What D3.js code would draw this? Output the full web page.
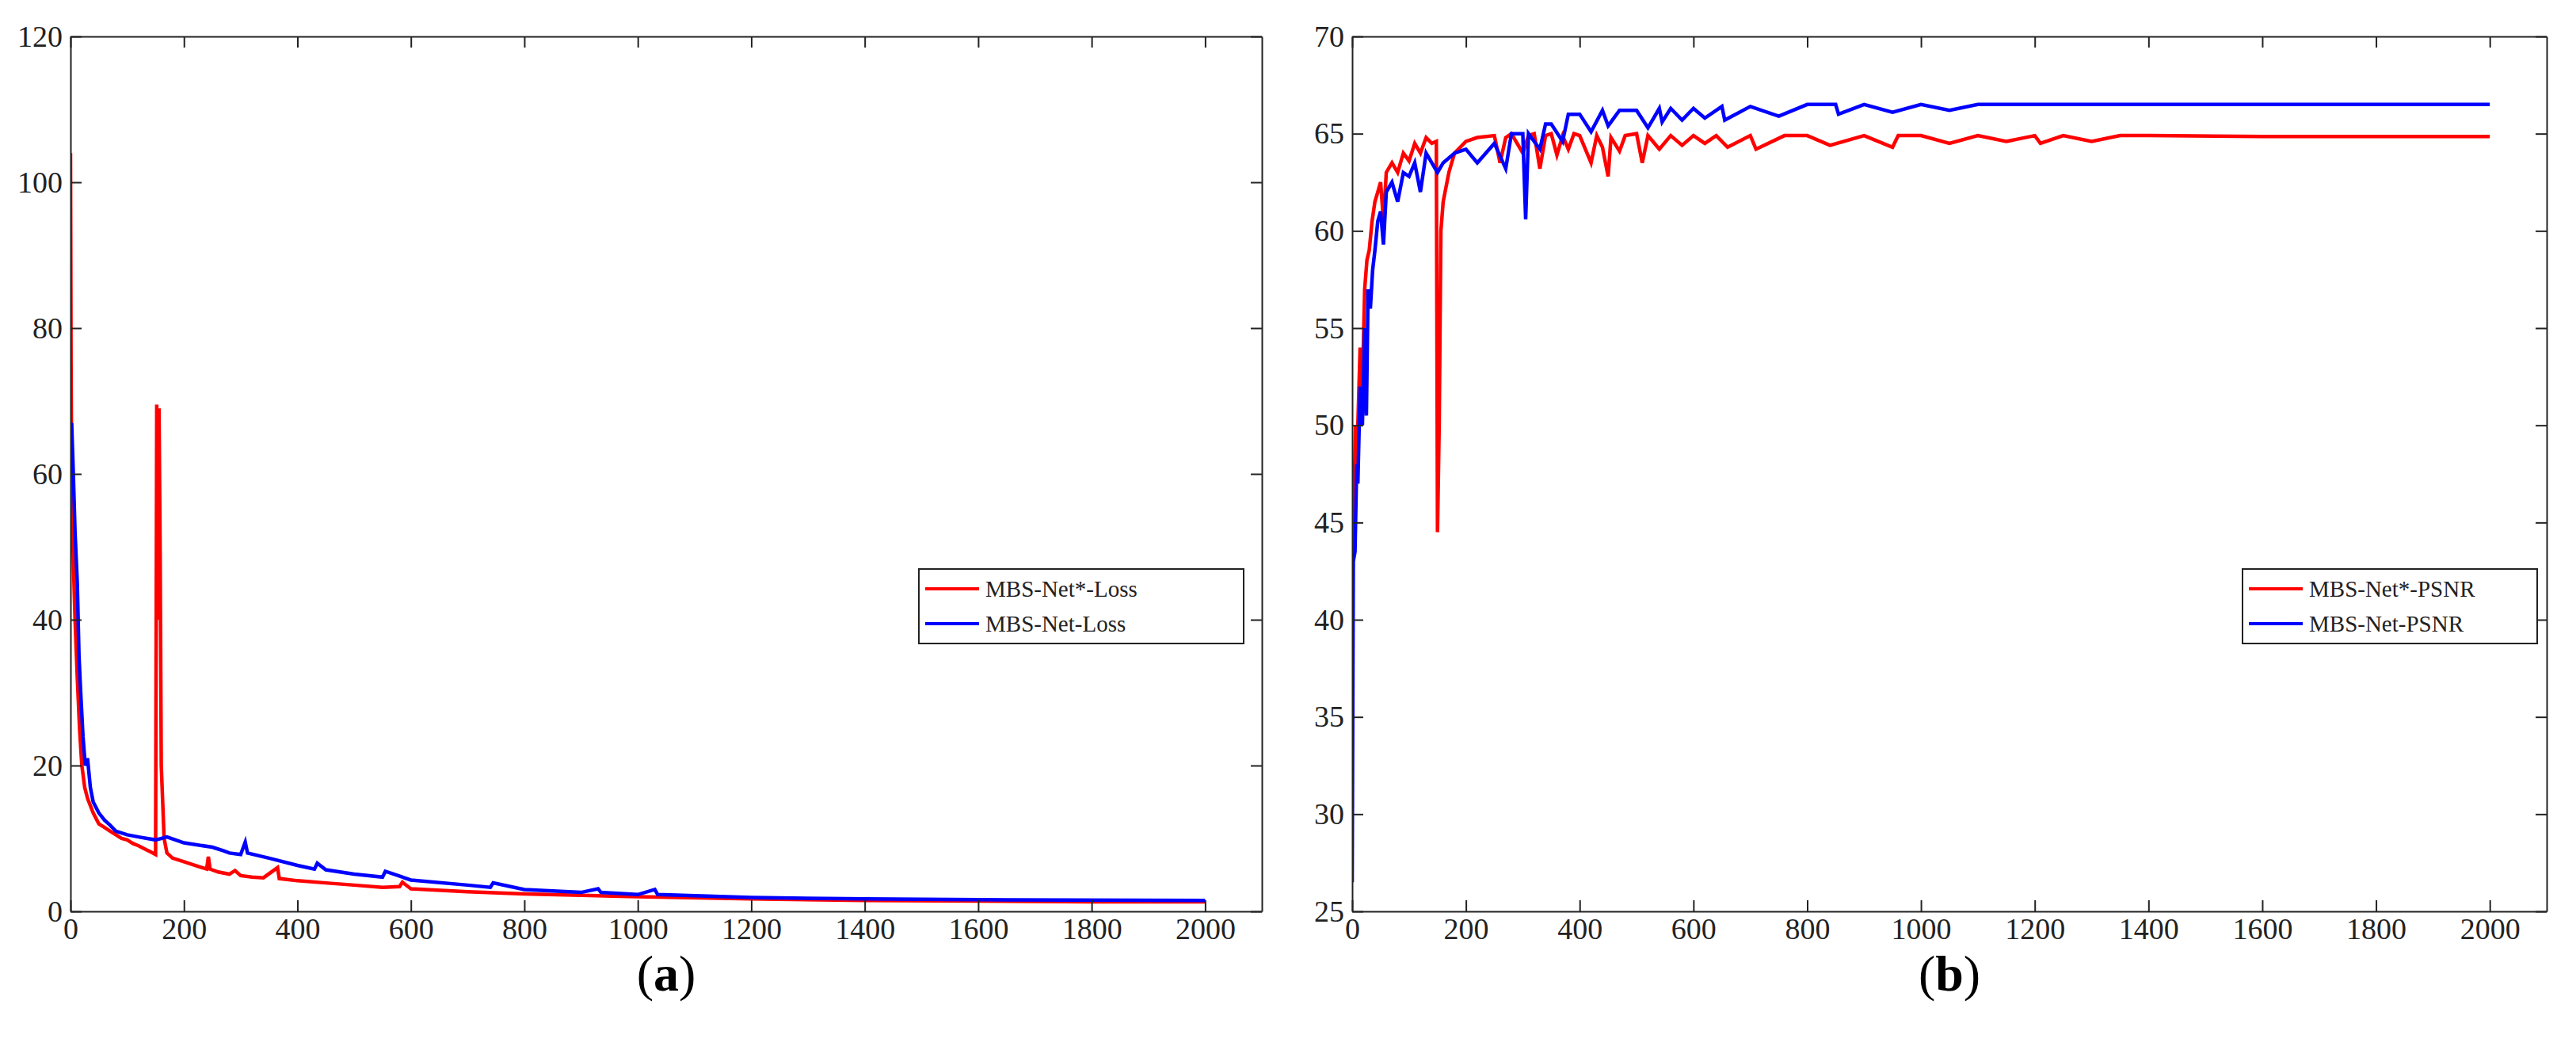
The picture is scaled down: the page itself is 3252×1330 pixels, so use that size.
<!DOCTYPE html><html><head><meta charset="utf-8">
<script src="https://cdn.jsdelivr.net/npm/d3@7"></script>
<style>body{margin:0;background:#fff}svg{font-family:"Liberation Serif","Times New Roman",serif}</style></head><body>
<svg id="c" width="3252" height="1330"></svg>
<script>
const lossRedX=[0,1,2,3,5,8,12,16,20,25,30,40,50,60,70,80,90,100,110,120,130,140,150,152,154,156,158,160,165,170,180,200,220,240,243,246,260,280,290,300,320,340,365,368,400,450,500,550,580,585,600,700,800,900,1000,1200,1400,1600,1800,2000];
const lossRedY=[104,75,60,55,48,40,32,25,20,17,15.5,13.5,12,11.5,11,10.5,10,9.8,9.3,9,8.6,8.2,7.8,69.5,40,69,50,20,10,8,7.3,6.8,6.3,5.8,7.5,5.8,5.4,5.1,5.6,4.9,4.7,4.6,6,4.5,4.2,3.9,3.6,3.3,3.4,4.0,3.1,2.7,2.4,2.2,2.0,1.7,1.5,1.4,1.3,1.3];
const lossBlueX=[0,2,5,8,12,15,18,22,26,30,35,40,50,60,70,80,100,120,150,170,200,250,270,280,300,308,312,350,400,430,435,450,500,550,555,600,700,740,745,800,900,930,935,1000,1030,1035,1200,1400,1600,2000];
const lossBlueY=[65,67,60,52,45,35,30,24,20,21,17,15,13.5,12.5,11.8,11,10.5,10.2,9.8,10.2,9.4,8.8,8.3,8.0,7.8,9.5,8,7.3,6.3,5.8,6.6,5.7,5.1,4.7,5.5,4.3,3.6,3.3,3.9,3.0,2.6,3.1,2.6,2.3,3,2.3,1.9,1.7,1.6,1.5];
const psnrRedX=[0,3,6,8,10,14,18,22,26,30,35,40,45,50,55,60,70,80,90,100,110,120,130,140,148,150,153,156,160,170,180,200,220,250,260,270,280,300,310,320,330,340,350,360,370,380,390,400,420,430,440,450,455,470,480,500,510,520,540,560,580,600,620,640,660,700,710,760,800,840,900,950,960,1000,1050,1100,1150,1200,1210,1250,1300,1350,1400,1600,2000];
const psnrRedY=[43.5,46,50,47,50,54,52,57,58.5,59,60.5,61.5,62,62.5,60.5,63,63.5,63,64,63.6,64.5,64,64.8,64.5,64.6,44.5,50,60,61.5,63,64,64.6,64.8,64.9,63.5,64.8,65,64,64.9,65,63.2,64.9,65,63.9,64.9,64.2,65,64.9,63.5,64.9,64.3,62.8,64.8,64.1,64.9,65,63.5,64.9,64.2,64.9,64.4,64.9,64.5,64.9,64.3,64.9,64.2,64.9,64.9,64.4,64.9,64.3,64.9,64.9,64.5,64.9,64.6,64.9,64.5,64.9,64.6,64.9,64.9,64.85,64.85];
const psnrBlueX=[0,2,5,8,10,14,18,22,25,28,32,36,40,45,50,55,60,70,80,90,100,110,120,130,150,160,180,200,220,250,270,280,300,305,310,330,340,350,370,380,400,420,440,450,470,500,520,540,545,560,580,600,620,650,655,700,750,800,850,855,900,950,1000,1050,1100,1200,1400,2000];
const psnrBlueY=[26.5,43,43.5,48,47,52,50,55,50.5,57,56,58,59,60.5,61,59.3,62,62.5,61.5,63,62.8,63.5,62,64,63,63.5,64,64.2,63.5,64.5,63.2,65,65,60.6,65,64.2,65.5,65.5,64.6,66,66,65.1,66.2,65.4,66.2,66.2,65.3,66.3,65.6,66.3,65.7,66.3,65.8,66.4,65.7,66.4,65.9,66.5,66.5,66,66.5,66.1,66.5,66.2,66.5,66.5,66.5,66.5];
const xTicks=[0,200,400,600,800,1000,1200,1400,1600,1800,2000];
const lossTicks=[0,20,40,60,80,100,120];
const psnrTicks=[25,30,35,40,45,50,55,60,65,70];

const svg=d3.select("#c");
function panel(L,R,T,B,yDom,yT,series,legend,leg,label){
  const x=d3.scaleLinear().domain([0,2100]).range([L,R]);
  const y=d3.scaleLinear().domain(yDom).range([B,T]);
  const g=svg.append("g");
  const clip="clip"+label;
  svg.append("clipPath").attr("id",clip).append("rect").attr("x",L).attr("y",T).attr("width",R-L).attr("height",B-T);
  series.forEach(s=>{
    const pts=s.x.map((v,i)=>[v,s.y[i]]);
    g.append("path").attr("clip-path",`url(#${clip})`).attr("fill","none").attr("stroke",s.c).attr("stroke-width",4.5)
     .attr("d",d3.line().x(d=>x(d[0])).y(d=>y(d[1]))(pts));
  });
  const ax=(a,tr)=>{const s=g.append("g").attr("transform",tr).call(a);s.selectAll("path,line").attr("stroke","#222").attr("stroke-width",2);
    s.selectAll("text").attr("font-size",38).attr("fill","#222").attr("font-family","Liberation Serif");return s;};
  ax(d3.axisBottom(x).tickValues(xTicks).tickSize(-14).tickPadding(8).tickFormat(d3.format("d")).tickSizeOuter(0),`translate(0,${B})`);
  ax(d3.axisTop(x).tickValues(xTicks).tickSize(-14).tickFormat("").tickSizeOuter(0),`translate(0,${T})`);
  ax(d3.axisLeft(y).tickValues(yT).tickSize(-14).tickPadding(10).tickFormat(d3.format("d")).tickSizeOuter(0),`translate(${L},0)`);
  ax(d3.axisRight(y).tickValues(yT).tickSize(-14).tickFormat("").tickSizeOuter(0),`translate(${R},0)`);
  const lg=g.append("g").attr("transform",`translate(${leg[0]},${leg[1]})`);
  lg.append("rect").attr("width",leg[2]).attr("height",94).attr("fill","#fff").attr("stroke","#222").attr("stroke-width",2);
  series.forEach((s,i)=>{
    const yy=25+i*44;
    lg.append("line").attr("x1",8).attr("x2",76).attr("y1",yy).attr("y2",yy).attr("stroke",s.c).attr("stroke-width",4);
    lg.append("text").attr("x",84).attr("y",yy+10).attr("font-size",29).attr("fill","#222").text(legend[i]);
  });
  const t=svg.append("text").attr("x",(L+R)/2).attr("y",1250).attr("text-anchor","middle").attr("font-size",64);
  t.append("tspan").text("(");t.append("tspan").attr("font-weight","bold").text(label);t.append("tspan").text(")");
}
panel(89,1593,46,1150,[0,120],lossTicks,
 [{x:lossRedX,y:lossRedY,c:"#ff0000"},{x:lossBlueX,y:lossBlueY,c:"#0000ff"}],
 ["MBS-Net*-Loss","MBS-Net-Loss"],[1160,718,410],"a");
panel(1707,3215,46,1150,[25,70],psnrTicks,
 [{x:psnrRedX,y:psnrRedY,c:"#ff0000"},{x:psnrBlueX,y:psnrBlueY,c:"#0000ff"}],
 ["MBS-Net*-PSNR","MBS-Net-PSNR"],[2831,718,372],"b");
</script></body></html>
